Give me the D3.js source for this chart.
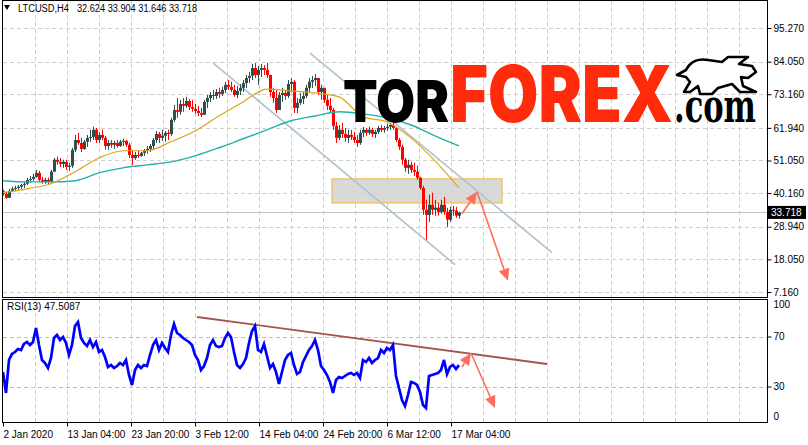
<!DOCTYPE html>
<html><head><meta charset="utf-8">
<script src="https://cdn.jsdelivr.net/npm/d3@7"></script>
<style>body{margin:0;background:#fff}svg{display:block}</style>
</head><body>
<svg id="c" width="808" height="445"></svg>
<script>
// ---------- data ----------
const symbol = "LTCUSD,H4";
const titleOHLC = ["32.624", "33.904", "31.646", "33.718"];
const lastPrice = 33.718;
const rsiTitle = "RSI(13) 47.5087";
const barsPerCandle = 3;       // each drawn candle spans 3 H4 bars
const maBarsStep = 24;         // moving-average samples every 24 bars
const totalBars = 764;

const open0 = 40.8;
const highs = [41.3,40.6,41.6,42.3,42.6,42.9,43.3,43.9,45.3,45.9,
 46.6,47.9,47.6,45.6,45.3,45.3,47.9,51.9,52.3,51.9,
 51.3,51.3,50.3,55.3,59.6,60.3,58.6,57.9,59.6,61.3,
 62.3,61.9,60.6,61.3,59.3,57.9,57.9,57.6,57.9,57.9,
 58.3,57.9,56.9,54.6,53.9,54.3,53.9,54.9,55.9,56.6,
 58.6,60.9,60.6,61.3,60.9,61.3,65.3,69.6,71.9,71.3,
 71.9,72.3,71.6,71.3,69.9,69.3,68.6,71.3,72.9,73.9,
 74.6,74.9,75.3,75.6,77.3,77.9,77.3,76.3,75.9,76.6,
 77.9,79.6,80.6,83.3,83.6,82.6,83.3,82.9,83.6,79.6,
 75.3,74.6,73.9,75.3,74.6,77.9,78.6,77.9,71.9,73.6,
 73.9,76.3,78.6,79.3,79.9,78.6,76.3,75.3,72.9,71.9,
 68.6,63.9,62.9,63.6,61.9,61.3,61.3,60.6,59.6,61.3,
 62.3,61.9,62.3,61.9,61.3,62.6,62.9,62.6,63.3,63.6,
 63.9,62.3,58.6,56.3,51.9,51.3,50.6,50.3,49.3,45.6,
 42.6,37.9,39.6,40.3,37.9,36.9,37.9,38.9,35.3,35.6,
 35.9,35.6,33.904];
const lows = [39.3,38.3,38.6,40.6,40.9,41.3,41.6,41.9,42.9,43.6,
 44.3,45.3,43.9,43.3,43.3,42.9,43.6,47.3,49.6,48.9,
 48.6,47.9,47.6,48.6,53.9,56.3,53.9,54.6,55.6,57.3,
 57.9,56.9,56.9,57.9,54.6,54.6,55.3,54.9,55.3,55.6,
 55.9,55.6,51.9,49.6,51.3,51.9,52.3,52.6,53.3,53.9,
 54.6,56.9,56.9,57.6,57.3,57.9,59.3,63.9,65.3,66.3,
 67.3,68.6,67.9,67.3,66.6,65.9,65.6,66.3,68.6,70.6,
 71.3,71.6,71.9,72.6,73.6,74.6,73.9,72.3,71.9,72.9,
 73.9,75.3,76.9,77.9,78.6,76.3,78.9,79.6,78.6,72.3,
 70.3,66.9,67.9,70.6,71.3,71.9,73.9,66.9,66.9,69.6,
 69.9,71.9,73.9,75.3,75.9,72.9,71.3,70.3,67.9,66.9,
 61.3,56.9,57.9,58.6,57.3,56.9,57.9,56.9,55.6,56.3,
 58.9,59.3,59.6,58.9,58.6,59.9,60.6,60.3,60.9,61.3,
 61.3,57.3,54.6,49.6,47.3,46.6,46.9,45.9,44.6,41.3,
 32.9,24.6,30.6,32.9,32.6,32.6,33.3,32.9,28.9,30.6,
 32.6,31.9,31.646];
const closes = [39.9,38.6,40.9,41.6,41.9,42.3,42.9,43.3,44.6,44.9,
 45.6,46.9,44.6,43.9,44.6,43.9,47.3,51.3,50.6,49.9,
 50.6,48.9,49.3,54.6,57.9,56.9,54.9,57.3,58.6,58.9,
 61.3,57.9,59.6,58.6,55.9,56.9,56.3,56.9,55.9,57.3,
 57.6,56.3,52.9,51.9,52.9,52.6,53.6,54.3,54.9,55.9,
 57.9,59.9,58.6,59.3,60.3,59.9,64.6,67.9,67.3,69.9,
 69.3,70.9,68.9,68.3,67.6,66.9,66.3,70.6,71.9,72.9,
 72.6,73.9,73.3,74.6,76.3,75.6,74.6,72.9,74.3,75.3,
 76.9,78.6,79.3,81.9,79.6,81.3,81.9,81.3,79.6,73.9,
 71.9,67.9,72.9,73.6,72.6,76.6,77.3,68.6,70.3,71.6,
 72.6,75.3,77.3,77.9,78.6,73.9,75.3,71.3,69.3,67.9,
 62.6,58.6,61.3,59.9,58.6,59.6,58.9,57.9,56.9,60.3,
 61.3,60.3,61.3,59.9,60.6,61.9,61.3,61.9,62.3,62.9,
 61.9,57.9,55.6,51.3,48.6,49.6,47.9,47.3,45.3,41.9,
 34.6,32.9,36.3,34.6,35.3,33.9,36.3,33.9,31.3,34.6,
 34.3,32.624,33.718];
const rsiValues = [42.0,25.2,51.6,56.4,58.0,60.4,59.6,64.4,66.0,63.6,
 66.0,77.2,63.6,51.6,49.2,45.2,53.2,69.2,71.6,67.6,
 70.0,65.2,55.6,63.6,78.8,82.0,69.2,65.2,62.8,67.6,
 62.0,66.0,58.0,59.6,54.0,46.0,47.6,45.2,46.8,49.2,
 47.6,51.6,39.6,31.6,43.6,47.6,45.2,47.6,46.8,55.6,
 63.6,67.6,59.6,65.2,61.2,58.0,71.6,80.4,73.2,71.6,
 69.2,67.6,66.0,63.6,55.6,51.6,43.6,46.8,53.2,63.6,
 67.6,62.8,62.0,62.8,69.2,73.2,70.0,58.0,47.6,45.2,
 48.4,53.2,65.2,74.8,78.8,59.6,58.0,64.4,54.8,45.2,
 48.4,42.0,32.4,42.0,51.6,55.6,57.2,47.6,40.4,42.0,
 50.0,54.8,59.6,62.8,67.6,59.6,46.8,43.6,39.6,34.0,
 25.2,35.6,38.0,37.2,38.8,40.4,41.2,39.6,41.2,37.2,
 51.6,50.0,53.2,49.2,51.6,53.2,59.6,57.2,61.2,59.6,
 63.6,38.8,29.2,19.6,14.8,23.6,34.0,33.2,31.6,26.0,
 15.6,13.2,38.8,39.6,40.4,41.2,43.6,51.6,40.4,46.0,
 47.6,44.4,47.5087];
const maFast = [40.3,41.6,43.3,47.3,51.9,54.3,54.3,57.3,60.9,65.9,
 70.6,74.9,74.3,73.6,72.3,65.6,63.9,58.6,50.9,41.9];
const maSlow = [44.3,43.9,43.9,44.3,46.9,48.6,49.6,50.6,52.6,55.3,
 58.3,61.3,64.3,65.9,67.3,66.6,65.3,62.9,59.3,55.9];

const priceTicks = [95.27, 84.05, 73.16, 61.94, 51.05, 40.16, 28.94, 18.05, 7.16];
const rsiTicks = [100, 70, 30, 0];
const rsiLevels = [70, 30];
const timeLabels = ["2 Jan 2020","13 Jan 04:00","23 Jan 20:00","3 Feb 12:00","14 Feb 04:00","24 Feb 20:00","6 Mar 12:00","17 Mar 04:00"];
const timeLabelBars = [0, 64, 128, 192, 256, 320, 384, 448];

// drawn analysis objects: [bar, price]
const channelUpper = [[307, 86.9], [549, 20.3]];
const channelLower = [[210, 83.6], [452, 16.3]];
const zoneBars = [329, 499];
const zonePrices = [44.9, 36.9];
const mainArrows = [[[459, 33.3], [474, 40.6]], [[474, 40.6], [505, 10.9]]];
const rsiTrend = [[194, 86.0], [544, 48.4]];
const rsiArrows = [[[459, 46.0], [468, 57.2]], [[468, 57.2], [492, 13.2]]];

// ---------- drawing ----------
const svg = d3.select("#c");
const FONT = "'Liberation Sans', Arial, sans-serif";
const x = d3.scaleLinear().domain([0, totalBars]).range([3, 767]);
const y = d3.scaleLinear().domain([7.16, 95.27]).range([292, 28]);
const yr = d3.scaleLinear().domain([0, 100]).range([424.5, 299.5]);

const defs = svg.append("defs");
defs.append("clipPath").attr("id","clipMain").append("rect").attr("x",3).attr("y",1).attr("width",764).attr("height",296);
defs.append("clipPath").attr("id","clipRsi").append("rect").attr("x",3).attr("y",299).attr("width",764).attr("height",123);

const gridColor = "#cfcfcf";
const grid = svg.append("g").attr("stroke", gridColor).attr("stroke-dasharray","4,3").attr("stroke-width",1);
const vBars = d3.range(32, totalBars + 1, 32);
vBars.forEach(b => {
  const gx = Math.round(x(b)) + 0.5;
  grid.append("line").attr("x1",gx).attr("x2",gx).attr("y1",1).attr("y2",297);
  grid.append("line").attr("x1",gx).attr("x2",gx).attr("y1",299).attr("y2",422);
});
priceTicks.forEach(p => {
  const gy = Math.round(y(p)) + 0.5;
  grid.append("line").attr("x1",3).attr("x2",767).attr("y1",gy).attr("y2",gy);
});
rsiLevels.forEach(v => {
  const gy = Math.round(yr(v)) + 0.5;
  grid.append("line").attr("x1",3).attr("x2",767).attr("y1",gy).attr("y2",gy).attr("stroke","#bdbdbd");
});

const main = svg.append("g").attr("clip-path","url(#clipMain)");

// bid line
main.append("line").attr("x1",3).attr("x2",767)
  .attr("y1",Math.round(y(lastPrice))+0.5).attr("y2",Math.round(y(lastPrice))+0.5)
  .attr("stroke","#c4c4c4").attr("stroke-width",1);

// zone
main.append("rect")
  .attr("x", x(zoneBars[0])).attr("width", x(zoneBars[1]) - x(zoneBars[0]))
  .attr("y", y(zonePrices[0])).attr("height", y(zonePrices[1]) - y(zonePrices[0]))
  .attr("fill","#d5d5d5").attr("fill-opacity",0.9)
  .attr("stroke","#f3c567").attr("stroke-width",1.5);

// channel lines
[channelUpper, channelLower].forEach(seg => {
  main.append("line")
    .attr("x1", x(seg[0][0])).attr("y1", y(seg[0][1]))
    .attr("x2", x(seg[1][0])).attr("y2", y(seg[1][1]))
    .attr("stroke","#afc2d0").attr("stroke-width",1.6);
});

// candles
const bull = "#2f4f4f", bear = "#ff0000";
const candles = closes.map((c,i) => ({
  bar: i * barsPerCandle,
  o: i === 0 ? open0 : closes[i-1],
  h: highs[i], l: lows[i], c: c
}));
const cg = main.append("g");
candles.forEach(d => {
  const cx = Math.round(x(d.bar));
  const col = d.c >= d.o ? bull : bear;
  const top = y(Math.max(d.h, d.o, d.c)), bot = y(Math.min(d.l, d.o, d.c));
  cg.append("rect").attr("x", cx).attr("width",1).attr("y", top).attr("height", Math.max(1, bot-top)).attr("fill", col);
  const bt = y(Math.max(d.o,d.c)), bb = y(Math.min(d.o,d.c));
  cg.append("rect").attr("x", cx-1).attr("width",3).attr("y", bt).attr("height", Math.max(1, bb-bt)).attr("fill", col);
});

// moving averages
const maLine = d3.line().x((d,i)=>x(i*maBarsStep)).y(d=>y(d)).curve(d3.curveMonotoneX);
main.append("path").attr("d", maLine(maSlow)).attr("fill","none").attr("stroke","#20b2aa").attr("stroke-width",1.4);
main.append("path").attr("d", maLine(maFast)).attr("fill","none").attr("stroke","#daa520").attr("stroke-width",1.2);

// arrows
function arrow(g, seg, sx, sy, color) {
  const x1 = sx(seg[0][0]), y1 = sy(seg[0][1]), x2 = sx(seg[1][0]), y2 = sy(seg[1][1]);
  const ang = Math.atan2(y2-y1, x2-x1), len = 12, hw = 5.5;
  const bx = x2 - len*Math.cos(ang), by = y2 - len*Math.sin(ang);
  g.append("line").attr("x1",x1).attr("y1",y1).attr("x2",bx).attr("y2",by)
    .attr("stroke",color).attr("stroke-width",1.6);
  const pts = [[x2,y2],[bx + hw*Math.sin(ang), by - hw*Math.cos(ang)],[bx - hw*Math.sin(ang), by + hw*Math.cos(ang)]];
  g.append("polygon").attr("points", pts.map(p=>p.join(",")).join(" ")).attr("fill",color);
}
const arrowColor = "#ff6d5e";
mainArrows.forEach(s => arrow(main, s, x, y, arrowColor));

// RSI panel
const rsiG = svg.append("g").attr("clip-path","url(#clipRsi)");
rsiG.append("line")
  .attr("x1", x(rsiTrend[0][0])).attr("y1", yr(rsiTrend[0][1]))
  .attr("x2", x(rsiTrend[1][0])).attr("y2", yr(rsiTrend[1][1]))
  .attr("stroke","#a55550").attr("stroke-width",1.8);
const rsiLine = d3.line().x((d,i)=>x(i*barsPerCandle)).y(d=>yr(d));
rsiG.append("path").attr("d", rsiLine(rsiValues)).attr("fill","none")
  .attr("stroke","#0000ff").attr("stroke-width",2.7).attr("stroke-linejoin","miter");
rsiArrows.forEach(s => arrow(rsiG, s, x, yr, arrowColor));

// frames
const frame = svg.append("g").attr("fill","none").attr("stroke","#000").attr("stroke-width",1);
frame.append("rect").attr("x",2.5).attr("y",0.5).attr("width",765).attr("height",297);
frame.append("rect").attr("x",2.5).attr("y",299.5).attr("width",765).attr("height",123);

// price axis
const pa = svg.append("g").attr("transform","translate(767.5,0)")
  .call(d3.axisRight(y).tickValues(priceTicks).tickSize(4).tickPadding(2).tickFormat(d3.format(".3f")));
pa.select(".domain").remove();
pa.selectAll("text").attr("font-family",FONT).attr("font-size",10).attr("fill","#000");
pa.selectAll("line").attr("stroke","#000");

// last price box
const lpY = y(lastPrice);
svg.append("rect").attr("x",768).attr("y",lpY-6.5).attr("width",38).attr("height",13).attr("fill","#000");
svg.append("text").attr("x",771).attr("y",lpY+3.6).attr("fill","#fff")
  .attr("font-family",FONT).attr("font-size",10).text(d3.format(".3f")(lastPrice));

// rsi axis
const ra = svg.append("g").attr("transform","translate(767.5,0)")
  .call(d3.axisRight(yr).tickValues(rsiTicks).tickSize(4).tickPadding(2).tickFormat(d3.format("d")));
ra.select(".domain").remove();
ra.selectAll(".tick").attr("transform", d => `translate(0,${Math.min(417, Math.max(305, yr(d)))})`);
ra.selectAll(".tick line").attr("stroke", d => (d===100||d===0) ? "none" : "#000");
ra.selectAll("text").attr("font-family",FONT).attr("font-size",10).attr("fill","#000");

// time axis
const ta = svg.append("g").attr("transform","translate(0,422.5)")
  .call(d3.axisBottom(x).tickValues(timeLabelBars).tickSize(4).tickFormat((d,i)=>timeLabels[i]));
ta.select(".domain").remove();
ta.selectAll("line").attr("stroke","#000");
ta.selectAll("text").attr("font-family",FONT).attr("font-size",10).attr("fill","#000")
  .attr("text-anchor","start").attr("x",0).attr("y",8);

// title
svg.append("polygon").attr("points","4,5 10,5 7,10").attr("fill","#000");
svg.append("text").attr("x",18).attr("y",12).attr("font-family",FONT).attr("font-size",10).attr("fill","#000")
  .attr("textLength",51).attr("lengthAdjust","spacingAndGlyphs").text(symbol);
svg.append("text").attr("x",77).attr("y",12).attr("font-family",FONT).attr("font-size",10).attr("fill","#000")
  .attr("textLength",120).attr("lengthAdjust","spacingAndGlyphs").text(titleOHLC.join(" "));
svg.append("text").attr("x",7).attr("y",310).attr("font-family",FONT).attr("font-size",10).attr("fill","#000")
  .text(rsiTitle);

// watermark logo (texts fitted to width by horizontal scaling)
const logo = svg.append("g");
function fitText(str, x0, base, size, width, family, weight, color, sy) {
  const g = logo.append("g");
  const t = g.append("text").attr("x",0).attr("y",0)
    .attr("font-family",family).attr("font-weight",weight).attr("font-size",size).attr("fill",color).text(str);
  const w = t.node().getComputedTextLength() || width;
  g.attr("transform", `translate(${x0},${base}) scale(${width / w},${sy || 1})`);
}
fitText("TOR", 343, 122, 58, 106, "Inter, Lato, Roboto, sans-serif", 900, "#000");
fitText("FOREX", 450, 122, 78, 223, "Inter, Lato, Roboto, sans-serif", 900, "#ff2b0b");
fitText(".com", 674, 122, 31, 82, "'DejaVu Serif', serif", 600, "#000", 1.5);
logo.append("path")
  .attr("d","M677,75 L686,70 C690,62 698,58 708,60 L722,62 L728,57 L748,57 L739,64 L752,66 L756,72 L748,78 L741,77 L743,86 L756,92 L740,92 L732,84 L718,88 L712,94 L700,94 L698,86 L690,92 L684,92 L690,82 L686,77 Z")
  .attr("fill","#fff").attr("stroke","#000").attr("stroke-width",2.6).attr("stroke-linejoin","round");
</script>
</body></html>
